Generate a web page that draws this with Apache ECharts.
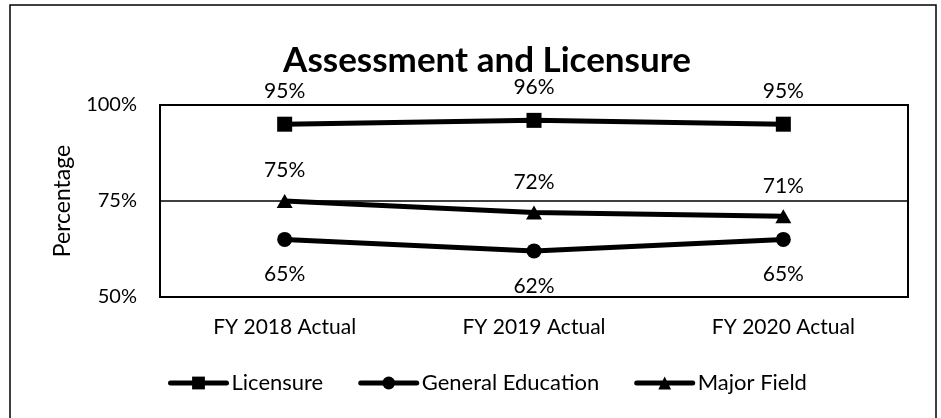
<!DOCTYPE html>
<html>
<head>
<meta charset="utf-8">
<script src="https://cdn.jsdelivr.net/npm/echarts@6/dist/echarts.min.js"></script>
<style>
  html, body { margin: 0; padding: 0; background: #fff; }
  #chart { width: 941px; height: 418px; }
</style>
</head>
<body>
<div id="chart"></div>
<script>
// Fiscal-year categories and assessment results (percent)
const categories = ['FY 2018 Actual', 'FY 2019 Actual', 'FY 2020 Actual'];
const licensure = [95, 96, 95];
const generalEducation = [65, 62, 65];
const majorField = [75, 72, 71];
const yTicks = [50, 75, 100];

const FONT = 'Lato, "Open Sans", sans-serif';
const INK = '#000';

const chart = echarts.init(document.getElementById('chart'), null, { renderer: 'canvas' });

function lineSeries(name, data, symbol, labelPos, dist) {
  return {
    name: name,
    type: 'line',
    data: data,
    symbol: symbol,
    symbolSize: symbol === 'triangle' ? [16, 14] : 15,
    lineStyle: { color: INK, width: 5, cap: 'round' },
    itemStyle: { color: INK },
    label: {
      show: true,
      position: labelPos,
      distance: dist,
      color: INK,
      fontFamily: FONT,
      fontSize: 21,
      formatter: p => Math.round(p.value) + '%'
    },
    emphasis: { disabled: true },
    animation: false
  };
}

chart.setOption({
  backgroundColor: '#fff',
  animation: false,
  title: {
    text: 'Assessment and Licensure',
    left: 482,
    textAlign: 'center',
    top: 38,
    textStyle: { fontFamily: FONT, fontWeight: 'bold', fontSize: 35, color: INK }
  },
  grid: {
    left: 160,
    right: 33,
    top: 105,
    bottom: 121,
    show: true,
    borderColor: INK,
    borderWidth: 2,
    containLabel: false
  },
  legend: {
    left: 163,
    top: 367,
    itemWidth: 56,
    itemHeight: 16,
    itemGap: 35,
    lineStyle: { width: 5, cap: 'round', color: INK },
    itemStyle: { color: INK },
    textStyle: { fontFamily: FONT, fontSize: 22, color: INK },
    data: ['Licensure', 'General Education', 'Major Field']
  },
  xAxis: {
    type: 'category',
    data: categories,
    boundaryGap: true,
    axisLine: { show: true, lineStyle: { color: INK, width: 2 } },
    axisTick: { show: false },
    axisLabel: { color: INK, fontFamily: FONT, fontSize: 21, margin: 20 }
  },
  yAxis: {
    type: 'value',
    min: yTicks[0],
    max: yTicks[yTicks.length - 1],
    interval: yTicks[1] - yTicks[0],
    name: 'Percentage',
    nameLocation: 'middle',
    nameGap: 86,
    nameTextStyle: { fontFamily: FONT, fontSize: 23, color: INK },
    axisLine: { show: true, lineStyle: { color: INK, width: 2 } },
    axisTick: { show: false },
    axisLabel: { color: INK, fontFamily: FONT, fontSize: 20, margin: 23, formatter: '{value}%' },
    splitLine: { show: true, lineStyle: { color: INK, width: 1.5 } }
  },
  graphic: [{
    type: 'rect',
    shape: { x: 10, y: 5, width: 926, height: 430 },
    style: { fill: null, stroke: INK, lineWidth: 1.5 },
    silent: true,
    z: 100
  }],
  series: [
    lineSeries('Licensure', licensure, 'rect', 'top', 15),
    lineSeries('General Education', generalEducation, 'circle', 'bottom', 17),
    lineSeries('Major Field', majorField, 'triangle', 'top', 13)
  ]
});
</script>
</body>
</html>
